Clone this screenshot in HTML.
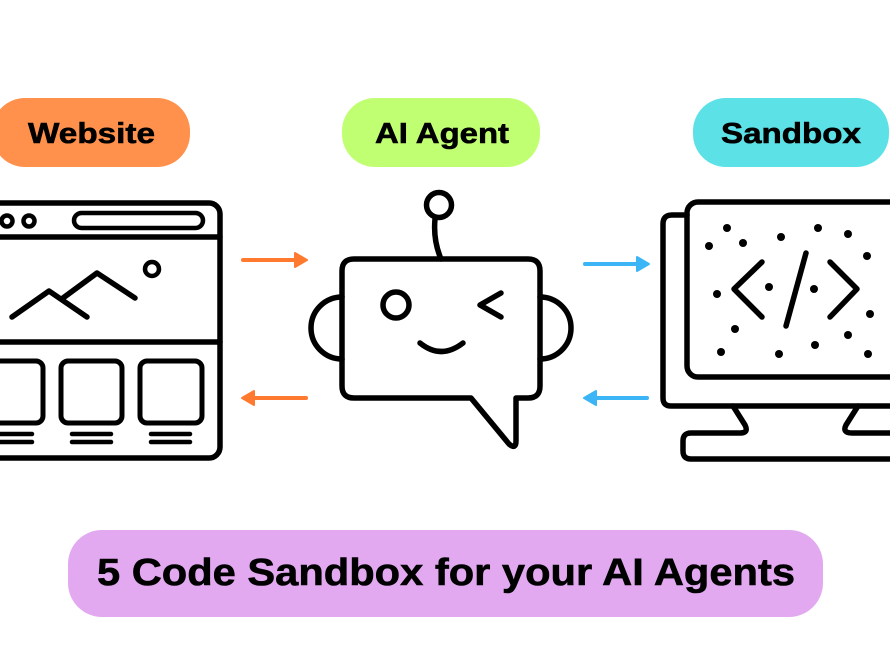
<!DOCTYPE html>
<html>
<head>
<meta charset="utf-8">
<style>
html,body{margin:0;padding:0;background:#fff;}
body{width:890px;height:664px;overflow:hidden;}
svg{display:block;}
text{font-family:"Liberation Sans",sans-serif;font-weight:bold;fill:#000;stroke:#000;stroke-width:0.6px;}
</style>
</head>
<body>
<svg width="890" height="664" viewBox="0 0 890 664" xmlns="http://www.w3.org/2000/svg">
  <rect x="0" y="0" width="890" height="664" fill="#fff"/>

  <!-- Pills -->
  <rect x="-8" y="98" width="198" height="69" rx="33" fill="#FF914D"/>
  <text x="28" y="143" font-size="29" textLength="127" lengthAdjust="spacingAndGlyphs">Website</text>

  <rect x="342" y="98" width="198" height="69" rx="33" fill="#C1FF72"/>
  <text x="375" y="143" font-size="29" textLength="134" lengthAdjust="spacingAndGlyphs">AI Agent</text>

  <rect x="693" y="98" width="196" height="69" rx="33" fill="#5CE1E6"/>
  <text x="721" y="143" font-size="29" textLength="140" lengthAdjust="spacingAndGlyphs">Sandbox</text>

  <rect x="68" y="530" width="755" height="87" rx="34" fill="#E2A9F1"/>
  <text x="97" y="585" font-size="38" textLength="698" lengthAdjust="spacingAndGlyphs">5 Code Sandbox for your AI Agents</text>

  <g fill="none" stroke="#000" stroke-width="5.5" stroke-linecap="round" stroke-linejoin="round">
    <!-- Browser window -->
    <rect x="-30" y="203" width="250" height="255" rx="11"/>
    <line x1="-30" y1="237" x2="220" y2="237"/>
    <line x1="-30" y1="342" x2="220" y2="342"/>
    <circle cx="7" cy="221" r="5.5" stroke-width="4.5"/>
    <circle cx="29" cy="221" r="5.5" stroke-width="4.5"/>
    <rect x="74" y="213" width="129" height="15" rx="7.5" stroke-width="4.5"/>
    <polyline points="12,317 49,291 87,317"/>
    <polyline points="63,298 97,273 135,298"/>
    <circle cx="152" cy="269" r="7" stroke-width="4.5"/>
    <rect x="-18" y="361" width="61" height="62" rx="7" stroke-width="5"/>
    <rect x="61" y="361" width="61" height="62" rx="7" stroke-width="5"/>
    <rect x="140" y="361" width="62" height="62" rx="7" stroke-width="5"/>
    <line x1="-5" y1="434" x2="32" y2="434" stroke-width="4.5"/>
    <line x1="-5" y1="442" x2="32" y2="442" stroke-width="4.5"/>
    <line x1="72" y1="434" x2="111" y2="434" stroke-width="4.5"/>
    <line x1="72" y1="442" x2="111" y2="442" stroke-width="4.5"/>
    <line x1="151" y1="434" x2="190" y2="434" stroke-width="4.5"/>
    <line x1="151" y1="442" x2="190" y2="442" stroke-width="4.5"/>

    <!-- Robot -->
    <circle cx="439" cy="205" r="12.5"/>
    <path d="M435,219 Q433,240 441,259"/>
    <path d="M354,259 L528,259 Q540,259 540,271 L540,386 Q540,398 528,398 L516,398 L516,441 Q516,450 509,444 L471,398 L354,398 Q342,398 342,386 L342,271 Q342,259 354,259 Z"/>
    <path d="M342,297 A31,31 0 0 0 342,359"/>
    <path d="M540,297 A31,31 0 0 1 540,359"/>
    <circle cx="396" cy="305" r="13"/>
    <polyline points="501,293 480,305 501,317"/>
    <path d="M420,343 Q441,360 463,343"/>

    <!-- Monitor -->
    <path d="M687,215 L672,215 Q663,215 663,224 L663,398 Q663,406 671,406 L900,406"/>
    <rect x="687" y="202" width="240" height="175" rx="11"/>
    <path d="M733,406 L745,425 Q749,433 740,433 L691,433 Q683,433 683,441 L683,451 Q683,459 691,459 L900,459"/>
    <path d="M858,406 L846,425 Q842,433 852,433 L900,433"/>
    <polyline points="762,262 734,289 762,317"/>
    <line x1="806" y1="253" x2="786" y2="326"/>
    <polyline points="830,262 857,289 830,317"/>
  </g>

  <!-- Dots -->
  <g fill="#000">
    <circle cx="727" cy="228" r="4"/>
    <circle cx="709" cy="246" r="4"/>
    <circle cx="743" cy="243" r="4"/>
    <circle cx="781" cy="237" r="4"/>
    <circle cx="818" cy="228" r="4"/>
    <circle cx="848" cy="234" r="4"/>
    <circle cx="867" cy="256" r="4"/>
    <circle cx="717" cy="294" r="4"/>
    <circle cx="769" cy="287" r="4"/>
    <circle cx="814" cy="289" r="4"/>
    <circle cx="870" cy="314" r="4"/>
    <circle cx="735" cy="329" r="4"/>
    <circle cx="848" cy="335" r="4"/>
    <circle cx="721" cy="352" r="4"/>
    <circle cx="779" cy="354" r="4"/>
    <circle cx="815" cy="345" r="4"/>
    <circle cx="868" cy="354" r="4"/>
  </g>

  <!-- Arrows orange -->
  <g stroke="#FF7A2F" stroke-width="4" stroke-linecap="round" fill="#FF7A2F">
    <line x1="243" y1="260" x2="298" y2="260"/>
    <path d="M295,253 L307,260 L295,267 Z" stroke-linejoin="round" stroke-width="2"/>
    <line x1="252" y1="398" x2="306" y2="398"/>
    <path d="M254,391 L242,398 L254,405 Z" stroke-linejoin="round" stroke-width="2"/>
  </g>
  <!-- Arrows blue -->
  <g stroke="#3BB5F5" stroke-width="4" stroke-linecap="round" fill="#3BB5F5">
    <line x1="585" y1="264" x2="640" y2="264"/>
    <path d="M637,257 L649,264 L637,271 Z" stroke-linejoin="round" stroke-width="2"/>
    <line x1="594" y1="398" x2="647" y2="398"/>
    <path d="M596,391 L584,398 L596,405 Z" stroke-linejoin="round" stroke-width="2"/>
  </g>
</svg>
</body>
</html>
